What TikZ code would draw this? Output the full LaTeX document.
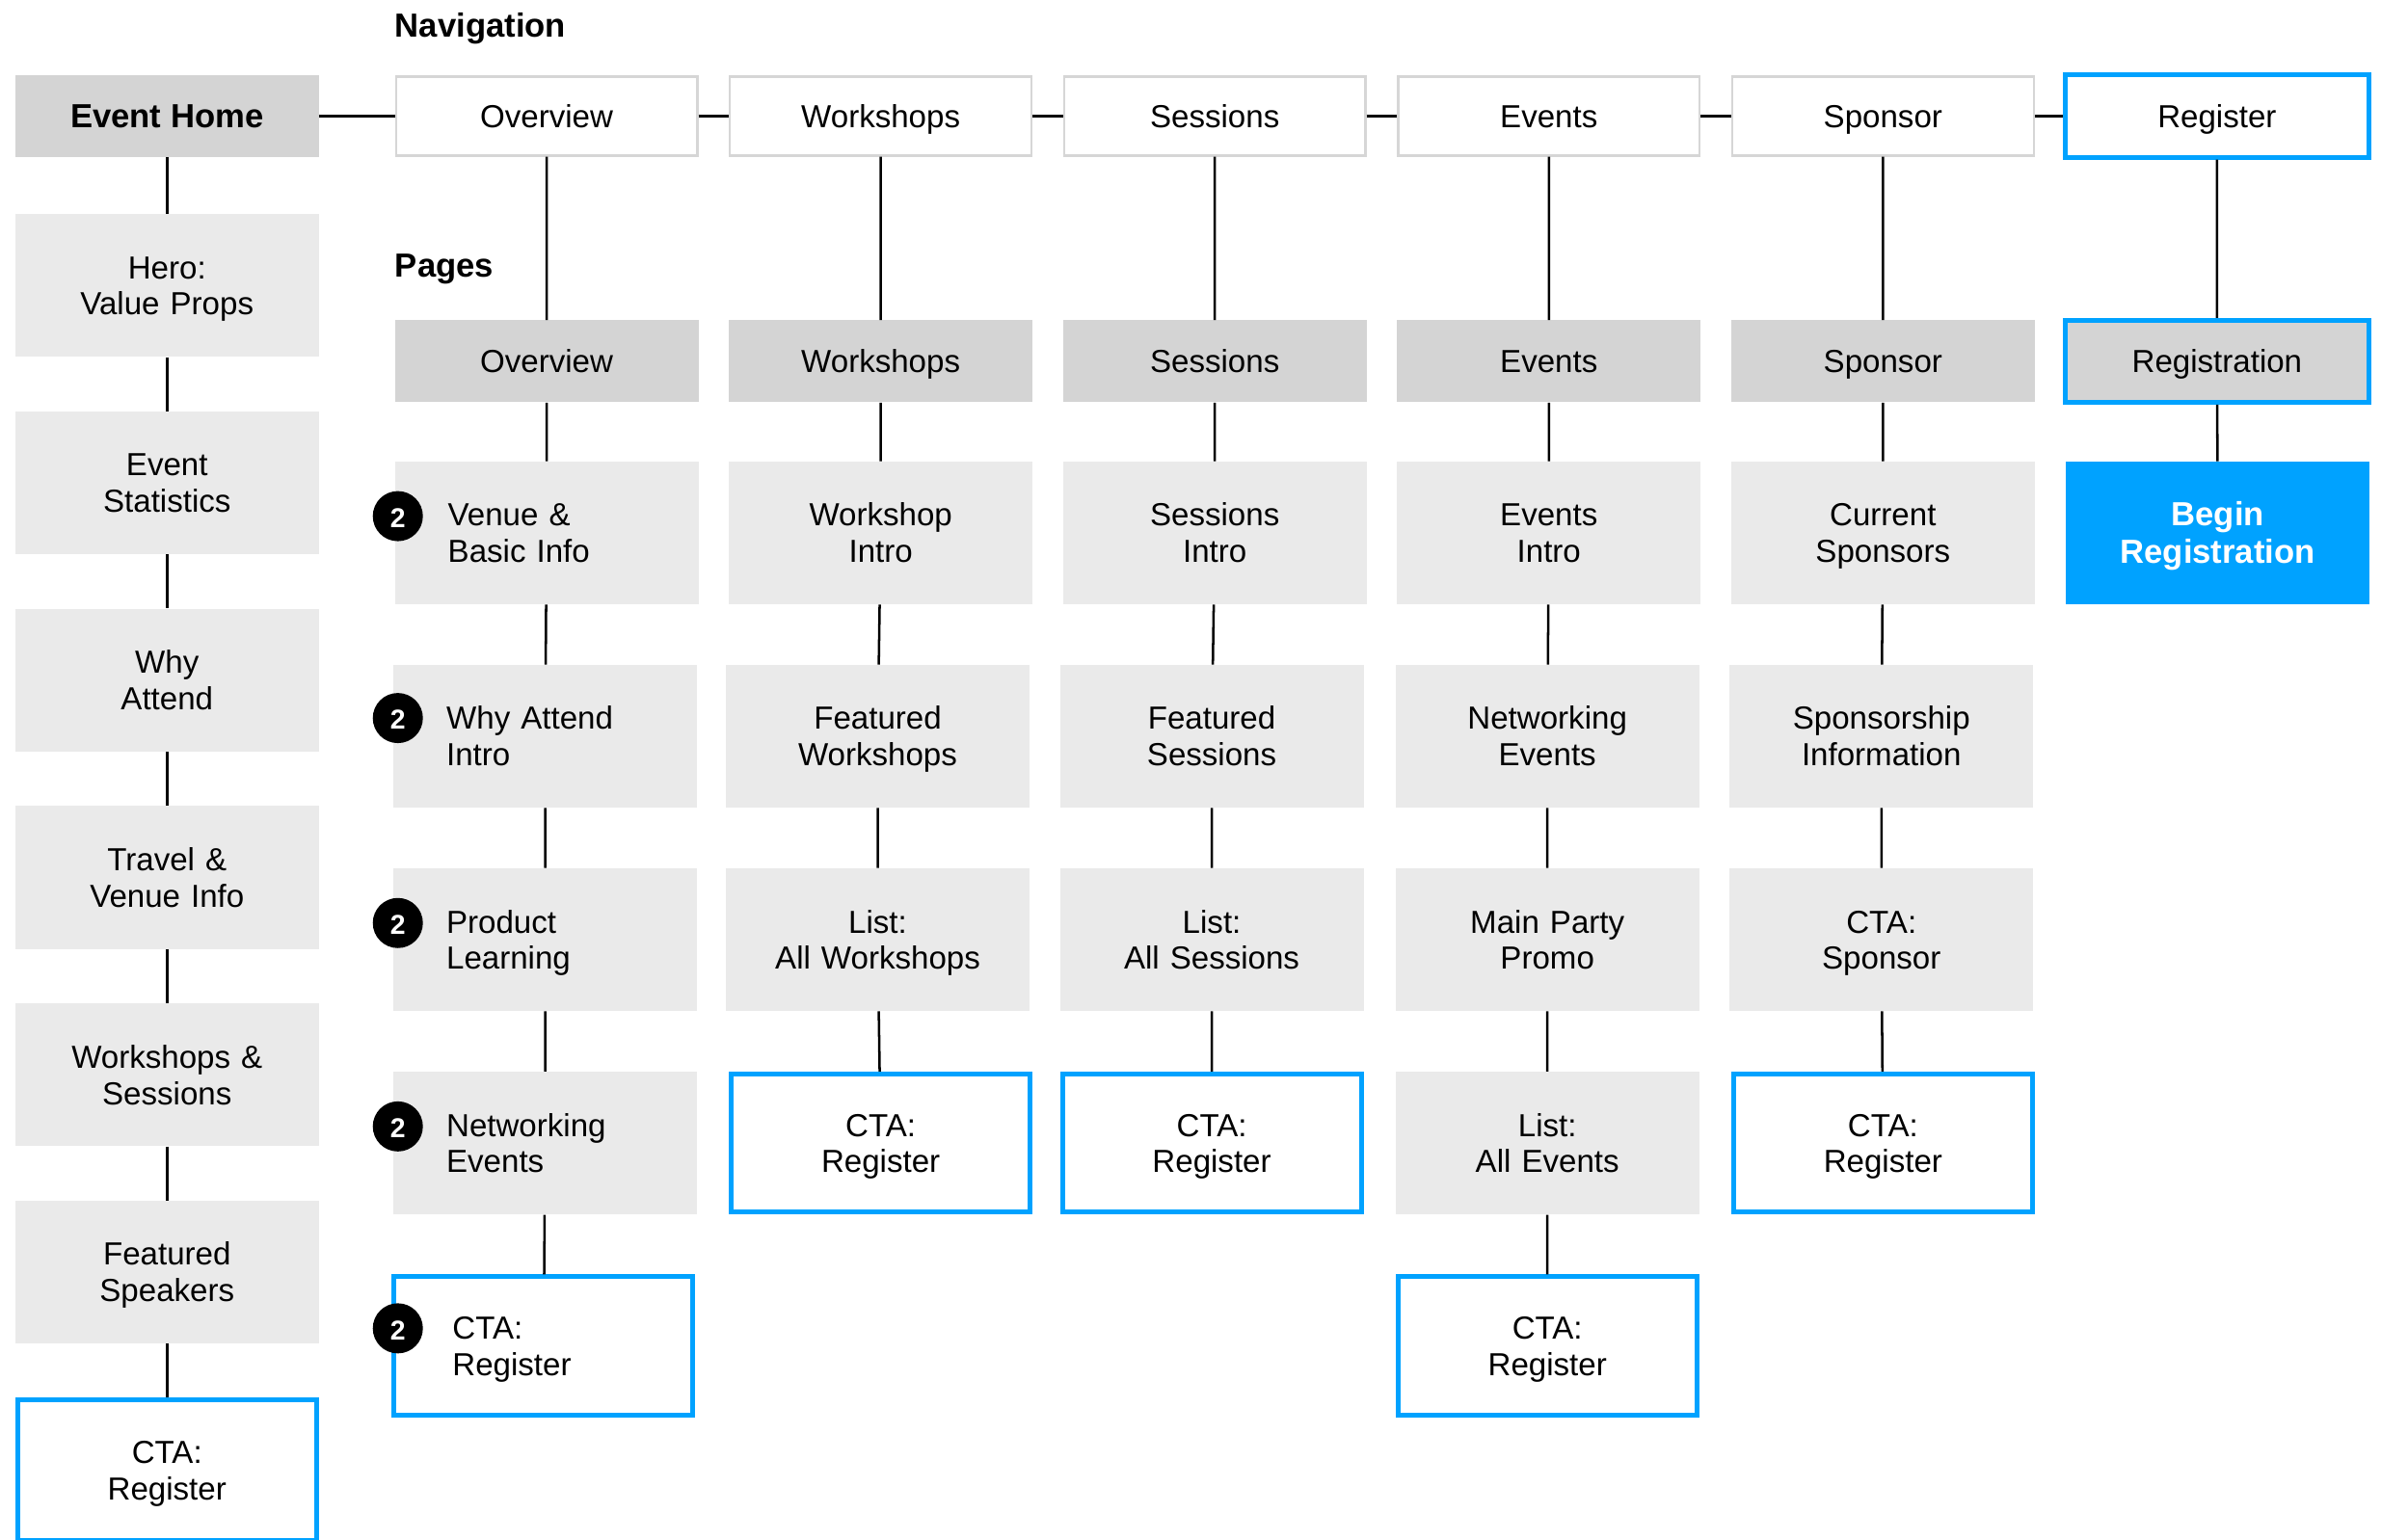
\documentclass[tikz,border=0pt]{standalone}
\usepackage{fontspec}
\setmainfont{Liberation Sans}
\definecolor{navgray}{HTML}{D6D6D6}
\definecolor{headgray}{HTML}{D4D4D4}
\definecolor{pagegray}{HTML}{EAEAEA}
\definecolor{ctablue}{HTML}{00A2FF}
\newcommand{\topstrut}{\rule{0pt}{20pt}}
\newcommand{\botstrut}{\rule[-5pt]{0pt}{5pt}}

\begin{document}
\begin{tikzpicture}[x=1pt, y=-1pt,
  every node/.style={font=\fontsize{21}{24}\selectfont, align=center, inner sep=0pt,
    execute at begin node=\topstrut, execute at end node=\botstrut},
  navbox/.style={draw=navgray, line width=1.5pt, fill=white, minimum width=198.5pt, minimum height=52pt},
  headbox/.style={fill=headgray, minimum width=200pt, minimum height=54pt},
  pagebox/.style={fill=pagegray, minimum width=200pt, minimum height=94pt, text width=180pt},
  leftbox/.style={pagebox, text width=130pt, align=left, inner xsep=35pt},
  ctabox/.style={draw=ctablue, line width=3.2pt, fill=white, minimum width=196.8pt, minimum height=91pt, text width=180pt},
  leftcta/.style={ctabox, text width=120pt, align=left, inner xsep=38.4pt},
  badge/.style={circle, fill=black, text=white, minimum size=33pt, font=\fontsize{18}{18}\selectfont\bfseries,
    execute at begin node={}, execute at end node={}},
  link/.style={draw=black, line width=1.6pt},
  title/.style={anchor=west, font=\fontsize{22}{24}\selectfont\bfseries}]

\useasboundingbox (0,0) rectangle (1568,1014);
\clip (0,0) rectangle (1568,1014);
%\draw[help lines, color=gray!30, dashed] (0,0) grid[step=100] (1568,1014);
\node[title] (navlabel) at (260,17) {Navigation};
\node[title] (pglabel) at (260,175) {Pages};

% left column
\node[headbox, font=\fontsize{22}{24}\selectfont\bfseries] (home) at (110,76.5) {Event Home};
\node[pagebox] (hero) at (110,188) {Hero:\\Value Props};
\node[pagebox] (stats) at (110,318) {Event\\Statistics};
\node[pagebox] (whyatt) at (110,448) {Why\\Attend};
\node[pagebox] (travel) at (110,578) {Travel \&\\Venue Info};
\node[pagebox] (wsess) at (110,708) {Workshops \&\\Sessions};
\node[pagebox] (speak) at (110,838) {Featured\\Speakers};
\node[ctabox, minimum height=93pt] (homecta) at (110,968.5) {CTA:\\Register};

% navigation row
\node[navbox] (nov) at (360,76.5) {Overview};
\node[navbox] (nws) at (580,76.5) {Workshops};
\node[navbox] (nse) at (800,76.5) {Sessions};
\node[navbox] (nev) at (1020,76.5) {Events};
\node[navbox] (nsp) at (1240,76.5) {Sponsor};
\node[draw=ctablue, line width=3.2pt, fill=white, minimum width=200pt, minimum height=54pt] (nrg) at (1460,76.5) {Register};

% page headers
\node[headbox] (hov) at (360,238) {Overview};
\node[headbox] (hws) at (580,238) {Workshops};
\node[headbox] (hse) at (800,238) {Sessions};
\node[headbox] (hev) at (1020,238) {Events};
\node[headbox] (hsp) at (1240,238) {Sponsor};
\node[headbox, draw=ctablue, line width=3.2pt] (hrg) at (1460,238) {Registration};

% overview pages
\node[leftbox] (ov1) at (360,351) {Venue \&\\Basic Info};
\node[leftbox] (ov2) at (359,485) {Why Attend\\Intro};
\node[leftbox] (ov3) at (359,619) {Product\\Learning};
\node[leftbox] (ov4) at (359,753) {Networking\\Events};
\node[leftcta] (ov5) at (358,886.5) {CTA:\\Register};
\node[badge] (bd1) at (262,340) {2};
\node[badge] (bd2) at (262,473) {2};
\node[badge] (bd3) at (262,608) {2};
\node[badge] (bd4) at (262,742) {2};
\node[badge] (bd5) at (262,875) {2};

% workshops pages
\node[pagebox] (ws1) at (580,351) {Workshop\\Intro};
\node[pagebox] (ws2) at (578,485) {Featured\\Workshops};
\node[pagebox] (ws3) at (578,619) {List:\\All Workshops};
\node[ctabox] (ws4) at (580,753) {CTA:\\Register};

% sessions pages
\node[pagebox] (se1) at (800,351) {Sessions\\Intro};
\node[pagebox] (se2) at (798,485) {Featured\\Sessions};
\node[pagebox] (se3) at (798,619) {List:\\All Sessions};
\node[ctabox] (se4) at (798,753) {CTA:\\Register};

% events pages
\node[pagebox] (ev1) at (1020,351) {Events\\Intro};
\node[pagebox] (ev2) at (1019,485) {Networking\\Events};
\node[pagebox] (ev3) at (1019,619) {Main Party\\Promo};
\node[pagebox] (ev4) at (1019,753) {List:\\All Events};
\node[ctabox] (ev5) at (1019,886.5) {CTA:\\Register};

% sponsor pages
\node[pagebox] (sp1) at (1240,351) {Current\\Sponsors};
\node[pagebox] (sp2) at (1239,485) {Sponsorship\\Information};
\node[pagebox] (sp3) at (1239,619) {CTA:\\Sponsor};
\node[ctabox] (sp4) at (1240,753) {CTA:\\Register};

% registration
\node[fill=ctablue, text=white, minimum width=200pt, minimum height=94pt, text width=190pt,
  font=\fontsize{22}{25}\selectfont\bfseries] (rg1) at (1460.5,351) {Begin\\Registration};

% connectors
\draw[link] (home.east) -- (nov.west);
\draw[link] (nov.east) -- (nws.west);
\draw[link] (nws.east) -- (nse.west);
\draw[link] (nse.east) -- (nev.west);
\draw[link] (nev.east) -- (nsp.west);
\draw[link] (nsp.east) -- (nrg.west);
\draw[link] (home) -- (hero) -- (stats) -- (whyatt) -- (travel) -- (wsess) -- (speak) -- (homecta);
\draw[link] (nov) -- (hov) -- (ov1) -- (ov2) -- (ov3) -- (ov4) -- (ov5);
\draw[link] (nws) -- (hws) -- (ws1) -- (ws2) -- (ws3) -- (ws4);
\draw[link] (nse) -- (hse) -- (se1) -- (se2) -- (se3) -- (se4);
\draw[link] (nev) -- (hev) -- (ev1) -- (ev2) -- (ev3) -- (ev4) -- (ev5);
\draw[link] (nsp) -- (hsp) -- (sp1) -- (sp2) -- (sp3) -- (sp4);
\draw[link] (nrg) -- (hrg) -- (rg1);
\end{tikzpicture}
\end{document}
